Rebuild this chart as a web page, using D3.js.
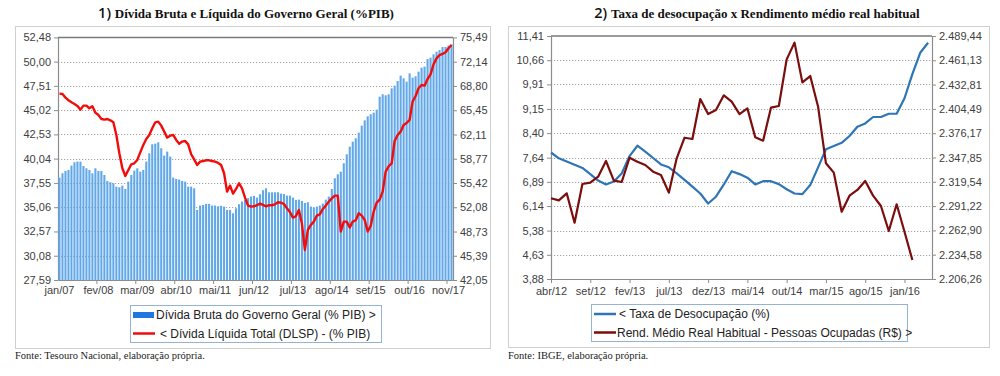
<!DOCTYPE html>
<html>
<head>
<meta charset="utf-8">
<script src="https://cdn.jsdelivr.net/npm/d3@7"></script>
<style>
  body { margin: 0; background: #fff; }
  svg { display: block; }
</style>
</head>
<body>
<div id="chart"></div>
<script>
// month abbreviations used for both category axes
const monthNames = ["jan", "fev", "mar", "abr", "mai", "jun", "jul", "ago", "set", "out", "nov", "dez"];

// chart 1: jan/07 .. dez/17 (monthly)
const debtStart = { year: 2007, month: 0 };
// Dívida Bruta do Governo Geral (% PIB) - right axis
const grossDebt = [
  56.16, 56.76, 57.08, 57.22, 57.82, 58.28, 58.37, 58.37, 57.77, 57.45, 57.22, 56.76,
  57.45, 57.08, 57.08, 56.53, 55.71, 55.52, 55.38, 54.92, 54.83, 55.06, 54.60, 55.61,
  56.53, 57.13, 57.45, 56.99, 57.22, 58.37, 59.52, 60.76, 60.85, 61.03, 60.21, 59.20,
  59.75, 59.06, 56.16, 55.98, 55.89, 55.71, 55.61, 54.92, 54.92, 54.69, 51.71, 52.31,
  52.40, 52.54, 52.54, 52.31, 52.31, 52.21, 52.26, 52.17, 51.71, 51.71, 51.25, 51.94,
  52.49, 52.86, 53.09, 53.32, 53.55, 53.64, 53.41, 53.87, 54.42, 54.69, 54.14, 54.14,
  54.14, 54.14, 53.96, 53.91, 53.68, 53.68, 53.41, 53.09, 53.13, 52.95, 52.67, 52.77,
  52.17, 52.03, 52.17, 52.31, 52.58, 53.13, 53.55, 54.60, 56.07, 56.62, 56.99, 58.14,
  59.38, 60.43, 61.12, 61.58, 62.36, 63.33, 64.06, 64.61, 64.89, 65.12, 65.53, 67.32,
  67.65, 67.51, 67.65, 68.47, 68.84, 69.48, 70.22, 69.85, 69.39, 70.54, 69.94, 70.13,
  70.77, 71.32, 71.46, 72.51, 72.70, 73.16, 73.52, 73.75, 74.17, 74.17, 74.35, 74.54
];
// Dívida Líquida Total (DLSP) - (% PIB) - left axis
const netDebt = [
  46.71, 46.67, 46.30, 46.03, 45.82, 45.65, 45.44, 45.07, 45.48, 45.48, 45.20, 45.41,
  44.76, 44.52, 44.11, 44.04, 44.11, 43.97, 43.77, 42.47, 40.59, 39.05, 38.26, 38.88,
  39.46, 39.56, 39.91, 40.69, 41.44, 42.06, 42.47, 43.15, 43.77, 43.84, 43.43, 42.81,
  42.20, 42.40, 42.47, 41.96, 41.58, 41.79, 41.85, 41.51, 40.49, 39.97, 39.39, 39.73,
  39.80, 39.87, 39.87, 39.80, 39.73, 39.60, 39.39, 38.54, 36.66, 37.27, 36.45, 36.93,
  37.51, 37.00, 36.04, 35.22, 35.12, 35.15, 35.26, 35.43, 35.29, 35.15, 35.26, 35.26,
  35.36, 35.56, 35.53, 35.39, 34.95, 34.57, 33.99, 34.13, 34.78, 33.41, 30.67, 32.73,
  33.24, 33.58, 34.20, 34.33, 34.88, 35.22, 35.63, 35.97, 36.25, 36.25, 32.56, 33.58,
  33.58, 32.97, 33.58, 33.72, 34.44, 34.20, 33.75, 32.56, 33.14, 34.61, 35.53, 35.84,
  36.66, 38.71, 39.26, 39.56, 41.85, 42.47, 42.81, 43.50, 43.70, 44.01, 45.89, 46.47,
  47.26, 47.60, 47.53, 48.21, 48.69, 49.72, 50.33, 50.67, 50.78, 50.95, 51.36, 51.70
];
const debtLeftTicks = [27.59, 30.08, 32.57, 35.06, 37.55, 40.04, 42.53, 45.02, 47.51, 50.00, 52.48];
const debtRightTicks = [42.05, 45.39, 48.73, 52.08, 55.42, 58.77, 62.11, 65.45, 68.80, 72.14, 75.49];
const debtLabelEvery = 13;

// chart 2: abr/12 .. abr/16 (monthly)
const laborStart = { year: 2012, month: 3 };
// < Taxa de Desocupação (%)
const unemployment = [
  7.80, 7.62, 7.52, 7.42, 7.32, 7.13, 6.93, 6.81, 6.90, 7.15, 7.69, 8.01, 7.83,
  7.63, 7.43, 7.34, 7.15, 6.95, 6.74, 6.53, 6.22, 6.43, 6.81, 7.22, 7.13, 7.02,
  6.81, 6.91, 6.91, 6.82, 6.66, 6.53, 6.51, 6.79, 7.34, 7.90, 8.00, 8.10, 8.31,
  8.60, 8.70, 8.90, 8.90, 9.00, 9.00, 9.48, 10.23, 10.89, 11.20
];
// Rend. Médio Real Habitual - Pessoas Ocupadas (R$) >
const income = [
  2300.3, 2297.9, 2306.1, 2271.9, 2317.0, 2318.5, 2325.5, 2343.8, 2320.9, 2319.3, 2347.6, 2343.0,
  2339.1, 2331.3, 2327.4, 2306.9, 2346.9, 2370.9, 2369.4, 2416.0, 2398.5, 2403.2, 2420.3, 2412.9,
  2398.5, 2405.1, 2371.4, 2367.5, 2405.9, 2407.9, 2462.2, 2481.7, 2435.4, 2442.8, 2407.1, 2341.1,
  2330.2, 2284.7, 2303.4, 2310.0, 2320.5, 2303.4, 2291.3, 2262.2, 2293.3, 2261.4, 2228.4
];
const laborLeftTicks = [3.88, 4.63, 5.38, 6.14, 6.89, 7.64, 8.40, 9.15, 9.91, 10.66, 11.41];
const laborRightTicks = [2206.26, 2234.58, 2262.90, 2291.22, 2319.54, 2347.85, 2376.17, 2404.49, 2432.81, 2461.13, 2489.44];
const laborLabelEvery = 5;

const ptBR = d3.formatLocale({ decimal: ",", thousands: ".", grouping: [3], currency: ["R$", ""] });
const fmt = ptBR.format(",.2f");

function monthLabels(start, n) {
  return d3.range(n).map(i => {
    const m = (start.month + i) % 12;
    const y = start.year + Math.floor((start.month + i) / 12);
    return monthNames[m] + "/" + String(y % 100).padStart(2, "0");
  });
}

const svg = d3.select("#chart").append("svg")
  .attr("width", 1000)
  .attr("height", 376);

svg.append("rect").attr("width", 1000).attr("height", 376).attr("fill", "#fff");

const axisFont = "'Liberation Sans', Arial, sans-serif";
const serifFont = "'Liberation Serif', 'Times New Roman', serif";
const textColor = "#404040";

function frame(x, y, w, h) {
  svg.append("rect")
    .attr("x", x + 0.5).attr("y", y + 0.5)
    .attr("width", w).attr("height", h)
    .attr("fill", "#fff")
    .attr("stroke", "#d0d0d0")
    .attr("stroke-width", 1);
}

function title(cx, num, txt) {
  const t = svg.append("text")
    .attr("x", cx).attr("y", 18)
    .attr("text-anchor", "middle")
    .attr("fill", "#111");
  t.append("tspan")
    .attr("font-family", "'Open Sans', sans-serif")
    .attr("font-weight", 600)
    .attr("font-size", 14.5)
    .text(num + " ");
  t.append("tspan")
    .attr("font-family", serifFont)
    .attr("font-weight", "bold")
    .attr("font-size", 13)
    .text(txt);
}

// grid lines + borders + tick labels common to both panels
function valueAxes(g, yL, yR, ticksL, ticksR, x0, x1, top, bottom) {
  g.append("g")
    .selectAll("line")
    .data(ticksL.slice(1, -1))
    .join("line")
    .attr("x1", x0).attr("x2", x1)
    .attr("y1", d => Math.round(yL(d)) + 0.5)
    .attr("y2", d => Math.round(yL(d)) + 0.5)
    .attr("stroke", "#a0a0a0")
    .attr("stroke-dasharray", "1.2,1.8");

  const left = d3.axisLeft(yL).tickValues(ticksL).tickFormat(fmt).tickSize(4).tickSizeOuter(0);
  const right = d3.axisRight(yR).tickValues(ticksR).tickFormat(fmt).tickSize(4).tickSizeOuter(0);

  const gl = g.append("g").attr("transform", `translate(${x0},0)`).call(left);
  const gr = g.append("g").attr("transform", `translate(${x1},0)`).call(right);
  [gl, gr].forEach(a => {
    a.select(".domain").attr("stroke", "#8c8c8c").attr("stroke-width", 1.2);
    a.selectAll(".tick line").attr("stroke", "#8c8c8c");
    a.selectAll(".tick text")
      .attr("font-family", axisFont)
      .attr("font-size", 11)
      .attr("fill", textColor);
  });
  gl.selectAll(".tick text").attr("x", -7);
  gr.selectAll(".tick text").attr("x", 7);

  // top border of the plot area
  g.append("line")
    .attr("x1", x0).attr("x2", x1)
    .attr("y1", top).attr("y2", top)
    .attr("stroke", "#7a7a7a").attr("stroke-width", 1.5);
}

function legend(x, y, w, h, items) {
  svg.append("rect")
    .attr("x", x + 0.5).attr("y", y + 0.5)
    .attr("width", w).attr("height", h)
    .attr("fill", "#fff")
    .attr("stroke", "#95b3d7");
  items.forEach((it, i) => {
    const cy = y + 10 + i * 18.5;
    if (it.kind === "bar") {
      svg.append("rect")
        .attr("x", x + 3).attr("y", cy - 3)
        .attr("width", 21).attr("height", 6)
        .attr("fill", it.color);
    } else {
      svg.append("line")
        .attr("x1", x + 3).attr("x2", x + 25)
        .attr("y1", cy).attr("y2", cy)
        .attr("stroke", it.color).attr("stroke-width", 2.5);
    }
    svg.append("text")
      .attr("x", x + it.dx).attr("y", cy + 4)
      .attr("font-family", axisFont)
      .attr("font-size", 12)
      .attr("fill", "#222")
      .text(it.label);
  });
}

function footer(x, txt) {
  svg.append("text")
    .attr("x", x).attr("y", 359)
    .attr("font-family", serifFont)
    .attr("font-size", 10.5)
    .attr("fill", "#222")
    .text(txt);
}

// ---------- panel 1 ----------
frame(15, 26, 475, 322);
title(246, "1)", "Dívida Bruta e Líquida do Governo Geral (%PIB)");

(function() {
  const x0 = 58, x1 = 453, top = 37.4, bottom = 280;
  const cats = monthLabels(debtStart, grossDebt.length);
  const g = svg.append("g");

  const x = d3.scaleBand().domain(cats).range([x0, x1]).paddingInner(0.3).paddingOuter(0.15);
  const yL = d3.scaleLinear().domain([debtLeftTicks[0], debtLeftTicks[debtLeftTicks.length - 1]]).range([bottom, top]);
  const yR = d3.scaleLinear().domain([debtRightTicks[0], debtRightTicks[debtRightTicks.length - 1]]).range([bottom, top]);

  valueAxes(g, yL, yR, debtLeftTicks, debtRightTicks, x0, x1, top, bottom);

  g.append("g")
    .selectAll("rect")
    .data(grossDebt)
    .join("rect")
    .attr("x", (d, i) => x(cats[i]))
    .attr("width", x.bandwidth())
    .attr("y", d => yR(d))
    .attr("height", d => bottom - yR(d))
    .attr("fill", "#62a8e8");

  const line = d3.line()
    .x((d, i) => x(cats[i]) + x.bandwidth() / 2)
    .y(d => yL(d));

  g.append("path")
    .datum(netDebt)
    .attr("fill", "none")
    .attr("stroke", "#f20d0d")
    .attr("stroke-width", 2.4)
    .attr("stroke-linejoin", "round")
    .attr("d", line);

  // category axis
  const step = x.step();
  const xAxis = d3.axisBottom(x)
    .tickValues(cats.filter((c, i) => i % debtLabelEvery === 0))
    .tickSize(0).tickSizeOuter(0).tickPadding(6);
  const ga = g.append("g").attr("transform", `translate(0,${bottom})`).call(xAxis);
  ga.select(".domain").attr("stroke", "#8c8c8c").attr("stroke-width", 1.2);
  ga.selectAll(".tick text").attr("font-family", axisFont).attr("font-size", 11).attr("fill", textColor);
  g.append("g")
    .selectAll("line")
    .data(cats.filter((c, i) => i % debtLabelEvery === 0 && i > 0))
    .join("line")
    .attr("x1", d => x(d) - step * 0.15).attr("x2", d => x(d) - step * 0.15)
    .attr("y1", bottom).attr("y2", bottom + 4)
    .attr("stroke", "#8c8c8c");
})();

legend(130, 305, 251, 37, [
  { kind: "bar", color: "#1f78e0", label: "Dívida Bruta do Governo Geral (% PIB) >", dx: 26 },
  { kind: "line", color: "#f20d0d", label: "< Dívida Líquida Total (DLSP) - (% PIB)", dx: 30 }
]);
footer(15, "Fonte: Tesouro Nacional, elaboração própria.");

// ---------- panel 2 ----------
frame(508, 26, 481, 321);
title(757, "2)", "Taxa de desocupação x Rendimento médio real habitual");

(function() {
  const x0 = 551, x1 = 932, top = 36, bottom = 279;
  const cats = monthLabels(laborStart, unemployment.length);
  const g = svg.append("g");

  const x = d3.scaleLinear().domain([0, cats.length - 0.5]).range([x0, x1]);
  const yL = d3.scaleLinear().domain([laborLeftTicks[0], laborLeftTicks[laborLeftTicks.length - 1]]).range([bottom, top]);
  const yR = d3.scaleLinear().domain([laborRightTicks[0], laborRightTicks[laborRightTicks.length - 1]]).range([bottom, top]);

  valueAxes(g, yL, yR, laborLeftTicks, laborRightTicks, x0, x1, top, bottom);

  g.append("path")
    .datum(unemployment)
    .attr("fill", "none")
    .attr("stroke", "#2e75b6")
    .attr("stroke-width", 2.2)
    .attr("stroke-linejoin", "round")
    .attr("d", d3.line().x((d, i) => x(i)).y(d => yL(d)));

  g.append("path")
    .datum(income)
    .attr("fill", "none")
    .attr("stroke", "#7b0d0d")
    .attr("stroke-width", 2.2)
    .attr("stroke-linejoin", "round")
    .attr("d", d3.line().x((d, i) => x(i)).y(d => yR(d)));

  const idx = d3.range(cats.length).filter(i => i % laborLabelEvery === 0);
  const xAxis = d3.axisBottom(x)
    .tickValues(idx)
    .tickFormat(i => cats[i])
    .tickSize(4).tickSizeOuter(0).tickPadding(4);
  const ga = g.append("g").attr("transform", `translate(0,${bottom})`).call(xAxis);
  ga.select(".domain").attr("stroke", "#8c8c8c").attr("stroke-width", 1.2);
  ga.selectAll(".tick line").attr("stroke", "#8c8c8c");
  ga.selectAll(".tick text").attr("font-family", axisFont).attr("font-size", 11).attr("fill", textColor);
})();

legend(591, 304, 316, 37, [
  { kind: "line", color: "#2e75b6", label: "< Taxa de Desocupação (%)", dx: 28 },
  { kind: "line", color: "#7b0d0d", label: "Rend. Médio Real Habitual - Pessoas Ocupadas (R$) >", dx: 26 }
]);
footer(508, "Fonte: IBGE, elaboração própria.");
</script>
</body>
</html>
